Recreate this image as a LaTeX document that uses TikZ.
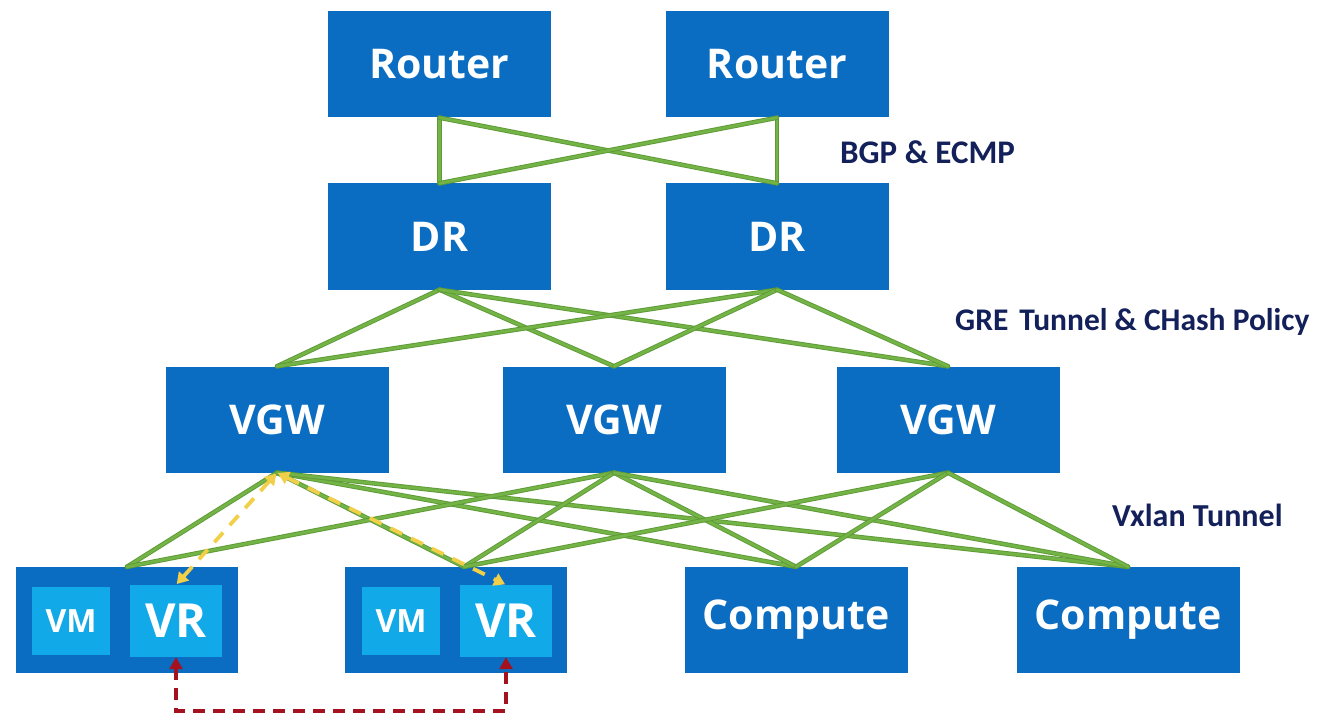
\documentclass[tikz,border=0pt]{standalone}
\usepackage{fontspec}
\setmainfont{Open Sans}
\newfontfamily\lblfont{Carlito}
\usetikzlibrary{arrows.meta,calc}
\definecolor{boxblue}{HTML}{0A6DC2}
\definecolor{innerblue}{HTML}{12A9E8}
\definecolor{greendark}{HTML}{5E9A38}
\definecolor{greenlight}{HTML}{74B446}
\definecolor{navy}{HTML}{13205A}
\definecolor{yel}{HTML}{F2CF48}
\definecolor{dred}{HTML}{A5121F}
\begin{document}
\begin{tikzpicture}[x=1pt,y=-1pt,
  bigbox/.style={fill=boxblue, minimum width=223pt, minimum height=106pt, inner sep=0pt,
    text=white, font=\fontsize{41}{41}\selectfont\bfseries},
  hostbox/.style={fill=boxblue, minimum width=222pt, minimum height=106pt, inner sep=0pt},
  vmbox/.style={fill=innerblue, minimum width=78pt, minimum height=68pt, inner sep=0pt,
    text=white, font=\fontsize{32}{32}\selectfont\bfseries},
  vrbox/.style={fill=innerblue, minimum width=92pt, minimum height=72pt, inner sep=0pt,
    text=white, font=\fontsize{47}{47}\selectfont\bfseries},
  lbl/.style={anchor=west, text=navy, inner sep=0pt, font=\lblfont\fontsize{33}{33}\selectfont\bfseries},
  link/.style={line width=4.6pt, draw=greendark, line cap=round,
    postaction={draw=greenlight, line width=2.8pt}},
  yarrow/.style={draw=yel, line width=3.8pt, dash pattern=on 13pt off 10pt,
    {Triangle[width=13pt,length=11pt]}-{Triangle[width=13pt,length=11pt]}, shorten <=1pt, shorten >=1pt},
  rarrow/.style={draw=dred, line width=3.6pt, dash pattern=on 12pt off 8pt,
    {Triangle[width=13pt,length=12pt]}-{Triangle[width=13pt,length=12pt]}}
]
\useasboundingbox (0,0) rectangle (1320,714);

% top rows
\node[bigbox] (r1) at (439.5,64.5) {Router};
\node[bigbox] (r2) at (777,64.5) {Router};
\node[bigbox] (d1) at (439.5,236.5) {DR};
\node[bigbox] (d2) at (777,236.5) {DR};
\node[bigbox] (g1) at (277,419.5) {VGW};
\node[bigbox] (g2) at (614,419.5) {VGW};
\node[bigbox] (g3) at (948,419.5) {VGW};

% bottom row
\node[hostbox] (b1) at (127,620) {};
\node[hostbox] (b2) at (456,620) {};
\node[bigbox] (c1) at (796,620) {Compute};
\node[bigbox] (c2) at (1128,620) {Compute};
\node[vmbox] (vm1) at (71,621) {VM};
\node[vrbox] (vr1) at (176,621) {VR};
\node[vmbox] (vm2) at (401,621) {VM};
\node[vrbox] (vr2) at (506,621) {VR};
\coordinate (b2t) at ($(b2.north)+(8,0)$);

% labels
\node[lbl] (l1) at (840,152) {BGP \& ECMP};
\node[lbl, font=\lblfont\fontsize{31.5}{32}\selectfont\bfseries] (l2) at (955,322) {GRE\hspace{0.12em} Tunnel \& CHash Policy};
\node[lbl, font=\lblfont\fontsize{32}{32}\selectfont\bfseries] (l3) at (1112,515) {Vxlan Tunnel};

% BGP & ECMP links
\draw[link] (r1.south) -- (d1.north);
\draw[link] (r2.south) -- (d2.north);
\draw[link] (r1.south) -- (d2.north);
\draw[link] (r2.south) -- (d1.north);

% GRE links
\foreach \d in {d1,d2}
  \foreach \g in {g1,g2,g3}
    \draw[link] (\d.south) -- (\g.north);

% Vxlan links
\draw[link] (g1.south) -- (b1.north);
\draw[link] (g1.south) -- (b2t);
\draw[link] (g1.south) -- (c1.north);
\draw[link] (g1.south) -- (c2.north);
\draw[link] (g2.south) -- (b1.north);
\draw[link] (g2.south) -- (b2t);
\draw[link] (g2.south) -- (c1.north);
\draw[link] (g2.south) -- (c2.north);
\draw[link] (g3.south) -- (b2t);
\draw[link] (g3.south) -- (c1.north);
\draw[link] (g3.south) -- (c2.north);

% yellow dashed paths
\draw[yarrow] (vr1.north) -- (g1.south);
\draw[yarrow] (g1.south) -- (vr2.north);

% red dashed path
\draw[rarrow] (vr1.south) -- ++(0,54) -| (vr2.south);
\end{tikzpicture}
\end{document}
